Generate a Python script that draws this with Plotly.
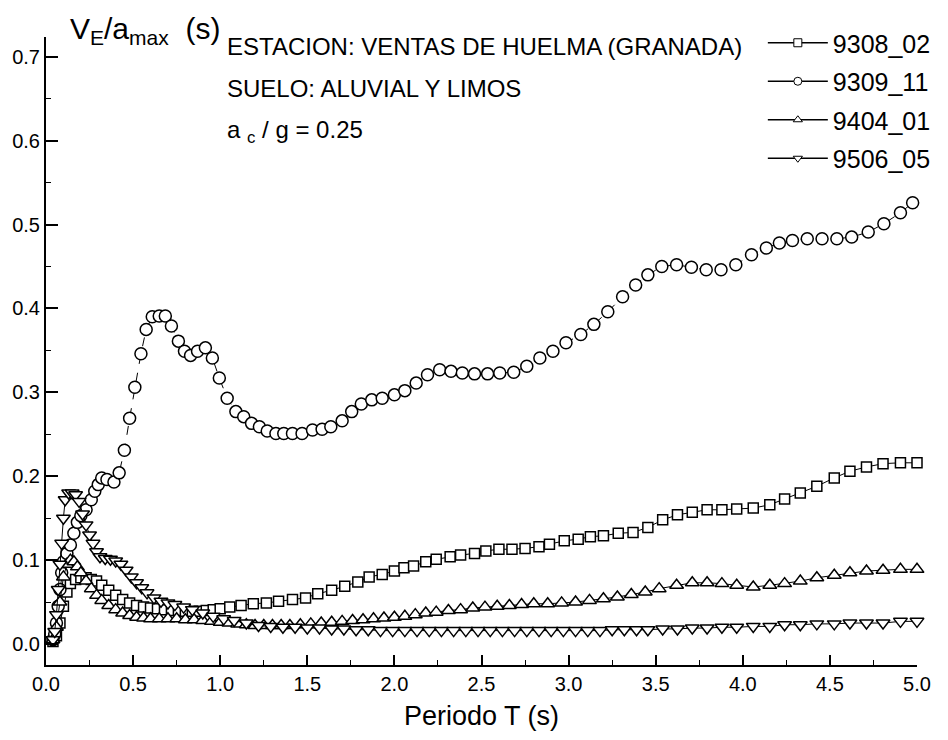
import plotly.graph_objects as go

# ---------------- data ----------------
t_9308 = [0.04, 0.06, 0.08, 0.10, 0.12, 0.14, 0.17, 0.20, 0.23, 0.26, 0.29, 0.32, 0.36, 0.40, 0.44, 0.48,
          0.52, 0.56, 0.60, 0.64, 0.68, 0.72, 0.76, 0.80, 0.84, 0.88, 0.92, 0.96, 1.00, 1.055, 1.12, 1.19,
          1.265, 1.335, 1.415, 1.49, 1.56, 1.64, 1.715, 1.79, 1.855, 1.93, 2.00, 2.055, 2.11, 2.18, 2.24,
          2.32, 2.38, 2.46, 2.525, 2.60, 2.675, 2.75, 2.83, 2.89, 2.975, 3.055, 3.125, 3.20, 3.285, 3.37,
          3.455, 3.54, 3.625, 3.71, 3.795, 3.88, 3.965, 4.06, 4.155, 4.24, 4.33, 4.425, 4.525, 4.615, 4.71,
          4.805, 4.905, 5.00]
v_9308 = [0.003, 0.010, 0.025, 0.045, 0.062, 0.072, 0.077, 0.079, 0.079, 0.077, 0.075, 0.070, 0.064, 0.058,
          0.053, 0.049, 0.046, 0.044, 0.043, 0.042, 0.041, 0.040, 0.040, 0.039, 0.039, 0.039, 0.040, 0.041,
          0.042, 0.044, 0.046, 0.048, 0.049, 0.051, 0.053, 0.055, 0.060, 0.064, 0.069, 0.074, 0.080, 0.083,
          0.087, 0.091, 0.093, 0.098, 0.101, 0.104, 0.106, 0.108, 0.111, 0.113, 0.113, 0.114, 0.116, 0.119,
          0.123, 0.125, 0.128, 0.129, 0.132, 0.133, 0.139, 0.148, 0.154, 0.157, 0.160, 0.160, 0.161, 0.162,
          0.166, 0.173, 0.180, 0.188, 0.198, 0.206, 0.211, 0.215, 0.216, 0.216]

t_9309 = [0.04, 0.05, 0.06, 0.07, 0.08, 0.09, 0.10, 0.12, 0.14, 0.16, 0.18, 0.20, 0.23, 0.26, 0.28, 0.30,
          0.32, 0.35, 0.39, 0.42, 0.45, 0.48, 0.51, 0.545, 0.575, 0.61, 0.65, 0.685, 0.72, 0.76, 0.795, 0.83,
          0.87, 0.915, 0.955, 0.995, 1.04, 1.09, 1.135, 1.18, 1.225, 1.27, 1.32, 1.365, 1.415, 1.47, 1.53,
          1.585, 1.635, 1.70, 1.755, 1.81, 1.87, 1.93, 2.00, 2.06, 2.125, 2.19, 2.26, 2.325, 2.39, 2.46,
          2.535, 2.605, 2.685, 2.76, 2.835, 2.91, 2.985, 3.07, 3.145, 3.225, 3.31, 3.385, 3.455, 3.535,
          3.62, 3.705, 3.79, 3.875, 3.96, 4.05, 4.135, 4.21, 4.285, 4.37, 4.455, 4.54, 4.625, 4.72, 4.81,
          4.905, 4.975, 5.03]
v_9309 = [0.005, 0.012, 0.025, 0.045, 0.065, 0.085, 0.098, 0.108, 0.118, 0.132, 0.145, 0.153, 0.160, 0.172,
          0.182, 0.190, 0.198, 0.196, 0.193, 0.204, 0.231, 0.269, 0.306, 0.346, 0.375, 0.390, 0.391, 0.391,
          0.379, 0.361, 0.349, 0.344, 0.349, 0.353, 0.341, 0.317, 0.293, 0.277, 0.271, 0.263, 0.259, 0.254,
          0.251, 0.251, 0.251, 0.251, 0.255, 0.256, 0.259, 0.266, 0.277, 0.286, 0.291, 0.293, 0.297, 0.302,
          0.311, 0.321, 0.327, 0.325, 0.323, 0.322, 0.322, 0.323, 0.324, 0.331, 0.341, 0.349, 0.359, 0.369,
          0.381, 0.396, 0.414, 0.428, 0.440, 0.450, 0.452, 0.449, 0.446, 0.446, 0.452, 0.464, 0.472, 0.478,
          0.481, 0.483, 0.483, 0.483, 0.485, 0.491, 0.501, 0.514, 0.526, 0.538]

t_9404 = [0.04, 0.06, 0.08, 0.10, 0.12, 0.14, 0.16, 0.18, 0.20, 0.23, 0.26, 0.29, 0.32, 0.36, 0.40, 0.44,
          0.48, 0.52, 0.56, 0.60, 0.65, 0.70, 0.75, 0.80, 0.85, 0.90, 0.95, 1.00, 1.05, 1.10, 1.15, 1.20,
          1.25, 1.30, 1.35, 1.40, 1.46, 1.52, 1.58, 1.64, 1.70, 1.76, 1.82, 1.88, 1.94, 2.00, 2.06, 2.12,
          2.18, 2.24, 2.31, 2.38, 2.45, 2.52, 2.59, 2.66, 2.73, 2.80, 2.88, 2.96, 3.04, 3.12, 3.20, 3.28,
          3.36, 3.44, 3.52, 3.62, 3.71, 3.795, 3.88, 3.965, 4.06, 4.155, 4.24, 4.33, 4.425, 4.525, 4.615,
          4.71, 4.805, 4.905, 5.00]
v_9404 = [0.005, 0.020, 0.050, 0.080, 0.095, 0.100, 0.098, 0.092, 0.085, 0.075, 0.066, 0.058, 0.052, 0.046,
          0.041, 0.037, 0.034, 0.032, 0.031, 0.030, 0.030, 0.030, 0.030, 0.029, 0.029, 0.028, 0.027, 0.026,
          0.025, 0.024, 0.023, 0.022, 0.022, 0.022, 0.022, 0.022, 0.023, 0.024, 0.025, 0.026, 0.027, 0.028,
          0.029, 0.030, 0.031, 0.032, 0.033, 0.035, 0.037, 0.038, 0.040, 0.041, 0.043, 0.044, 0.045, 0.046,
          0.047, 0.048, 0.048, 0.049, 0.050, 0.052, 0.054, 0.056, 0.059, 0.062, 0.066, 0.070, 0.073, 0.073,
          0.072, 0.070, 0.068, 0.070, 0.072, 0.075, 0.079, 0.082, 0.085, 0.087, 0.088, 0.089, 0.089]

t_9506 = [0.04, 0.05, 0.06, 0.07, 0.08, 0.09, 0.10, 0.11, 0.13, 0.15, 0.17, 0.19, 0.21, 0.23, 0.25, 0.27,
          0.29, 0.31, 0.34, 0.37, 0.40, 0.43, 0.46, 0.49, 0.52, 0.55, 0.58, 0.62, 0.66, 0.70, 0.74, 0.79,
          0.84, 0.90, 0.96, 1.02, 1.08, 1.15, 1.22, 1.29, 1.36, 1.43, 1.50, 1.57, 1.64, 1.71, 1.78, 1.85,
          1.92, 1.99, 2.06, 2.13, 2.20, 2.27, 2.34, 2.41, 2.48, 2.55, 2.62, 2.69, 2.76, 2.83, 2.90, 2.97,
          3.04, 3.11, 3.18, 3.25, 3.32, 3.39, 3.455, 3.54, 3.625, 3.71, 3.795, 3.88, 3.965, 4.06, 4.155,
          4.24, 4.33, 4.425, 4.525, 4.615, 4.71, 4.805, 4.905, 5.00]
v_9506 = [0.005, 0.015, 0.035, 0.065, 0.095, 0.120, 0.150, 0.172, 0.180, 0.180, 0.178, 0.170, 0.155, 0.142,
          0.130, 0.120, 0.110, 0.104, 0.102, 0.101, 0.099, 0.095, 0.088, 0.080, 0.073, 0.067, 0.061, 0.055,
          0.051, 0.049, 0.047, 0.044, 0.041, 0.037, 0.033, 0.030, 0.028, 0.025, 0.022, 0.021, 0.020, 0.020,
          0.019, 0.019, 0.018, 0.018, 0.017, 0.017, 0.016, 0.016, 0.016, 0.016, 0.016, 0.016, 0.016, 0.016,
          0.016, 0.016, 0.016, 0.016, 0.016, 0.016, 0.016, 0.016, 0.016, 0.016, 0.016, 0.017, 0.017, 0.017,
          0.017, 0.018, 0.018, 0.019, 0.019, 0.020, 0.020, 0.021, 0.021, 0.023, 0.023, 0.024, 0.024, 0.025,
          0.025, 0.025, 0.027, 0.027]

series_names = ["9308_02", "9309_11", "9404_01", "9506_05"]
series_t = [t_9308, t_9309, t_9404, t_9506]
series_v = [v_9308, v_9309, v_9404, v_9506]
fill_symbols = ["square", "circle", "triangle-up", "triangle-down"]
sizes = [10, 12, 12, 12]
dashes = ["solid", "dash", "solid", "solid"]

x_ticks = [0.0, 0.5, 1.0, 1.5, 2.0, 2.5, 3.0, 3.5, 4.0, 4.5, 5.0]
y_ticks = [0.0, 0.1, 0.2, 0.3, 0.4, 0.5, 0.6, 0.7]

FONT = "Liberation Sans, Arial, sans-serif"

fig = go.Figure()
for name, t, v, sym, sz, dsh in zip(series_names, series_t, series_v, fill_symbols, sizes, dashes):
    fig.add_trace(go.Scatter(
        x=t, y=v, mode="lines+markers", name=name, showlegend=False, cliponaxis=False,
        line=dict(color="black", width=1, dash=dsh),
        marker=dict(symbol=sym, size=sz, color="white", line=dict(color="black", width=1.5)),
    ))
# legend entries (small markers like the reference)
for name, sym in zip(series_names, fill_symbols):
    fig.add_trace(go.Scatter(
        x=[None], y=[None], mode="lines+markers", name=name, legendgroup=name,
        line=dict(color="black", width=1.5),
        marker=dict(symbol=sym, size=8, color="white", line=dict(color="black", width=1)),
    ))

L, R, T, B = 46, 15, 37, 75
W, H = 948, 740
pw, ph = W - L - R, H - T - B

def px(x):
    return (x - L) / pw

def py(y):
    return (H - B - y) / ph

fig.update_layout(
    width=W, height=H,
    margin=dict(l=L, r=R, t=T, b=B, pad=0),
    paper_bgcolor="white", plot_bgcolor="white",
    font=dict(family=FONT, color="black", size=20),
    showlegend=True,
    legend=dict(x=px(776), y=py(20), xanchor="left", yanchor="top",
                font=dict(size=25, family=FONT), bgcolor="rgba(0,0,0,0)",
                tracegroupgap=3, itemwidth=60, traceorder="grouped"),
    xaxis=dict(range=[0, 5.0], tickvals=x_ticks, ticktext=[f"{v:.1f}" for v in x_ticks],
               showgrid=False, zeroline=False, showline=True, linecolor="black", linewidth=2,
               ticks="inside", ticklen=10, tickwidth=1.5, tickcolor="black",
               minor=dict(dtick=0.25, ticks="inside", ticklen=5, tickcolor="black", tickwidth=1),
               tickfont=dict(size=20), mirror=False),
    yaxis=dict(range=[-0.025, 0.7235], tickvals=y_ticks, ticktext=[f"{v:.1f}" for v in y_ticks],
               showgrid=False, zeroline=False, showline=True, linecolor="black", linewidth=2,
               ticks="inside", ticklen=12, tickwidth=1.5, tickcolor="black",
               minor=dict(dtick=0.05, tick0=0, ticks="inside", ticklen=5, tickcolor="black", tickwidth=1),
               tickfont=dict(size=20), mirror=False),
    annotations=[
        dict(text="V<sub>E</sub>/a<sub>max</sub>  (s)", x=px(68), y=py(30), xref="paper", yref="paper",
             xanchor="left", yanchor="middle", showarrow=False, font=dict(size=30)),
        dict(text="ESTACION: VENTAS DE HUELMA (GRANADA)", x=px(228), y=py(46), xref="paper", yref="paper",
             xanchor="left", yanchor="middle", showarrow=False, font=dict(size=24)),
        dict(text="SUELO: ALUVIAL Y LIMOS", x=px(228), y=py(88), xref="paper", yref="paper",
             xanchor="left", yanchor="middle", showarrow=False, font=dict(size=24)),
        dict(text="a <sub>c</sub> / g = 0.25", x=px(228), y=py(131), xref="paper", yref="paper",
             xanchor="left", yanchor="middle", showarrow=False, font=dict(size=24)),
        dict(text="Periodo T (s)", x=px(490), y=py(716), xref="paper", yref="paper",
             xanchor="center", yanchor="middle", showarrow=False, font=dict(size=27)),
    ],
)

fig.write_html("out.html")
